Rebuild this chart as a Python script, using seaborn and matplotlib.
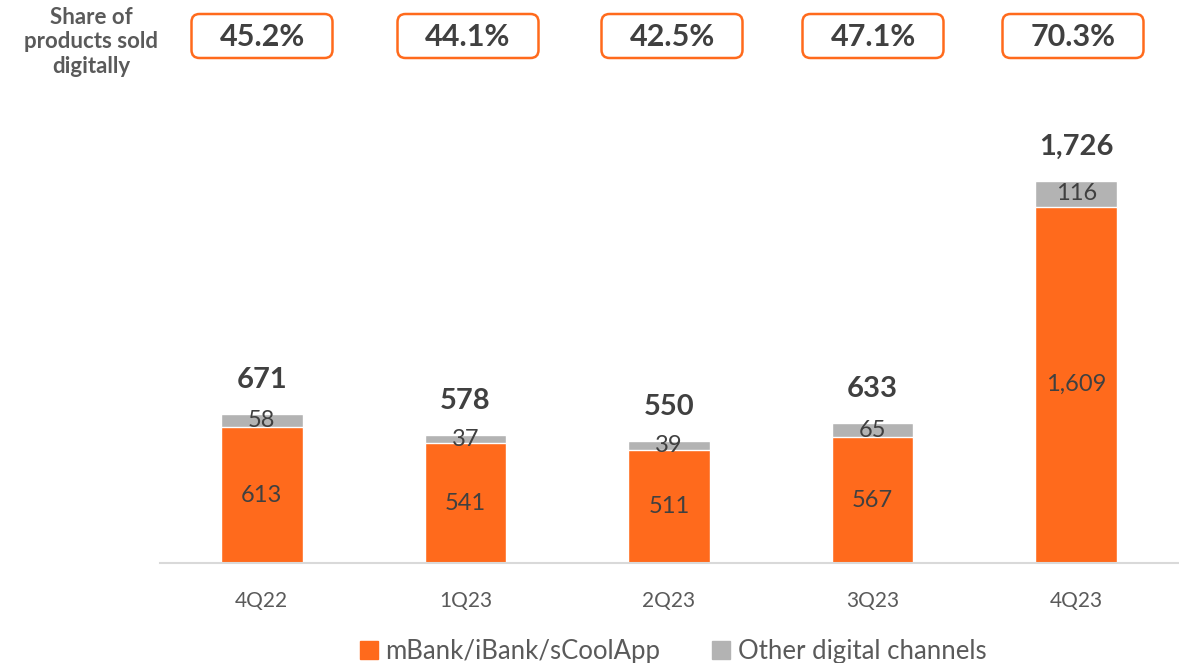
import numpy as np
import pandas as pd
import matplotlib.pyplot as plt
import seaborn as sns
from matplotlib.patches import Patch, FancyBboxPatch
from matplotlib.transforms import IdentityTransform

# data
quarters = ['4Q22', '1Q23', '2Q23', '3Q23', '4Q23']
mbank = [613, 541, 511, 567, 1609]
other = [58, 37, 39, 65, 116]
totals = [671, 578, 550, 633, 1726]
share = ['45.2%', '44.1%', '42.5%', '47.1%', '70.3%']

orange = '#FF6A1C'
grey = '#B3B3B3'
dark = '#404040'
mid = '#5A5A5A'

df = pd.DataFrame({'quarter': quarters, 'mbank': mbank, 'other': other})
df['stack'] = df['mbank'] + df['other']

sns.set_style('white')
plt.rcParams['font.family'] = ['Lato', 'DejaVu Sans']

W, H = 1179, 663
fig = plt.figure(figsize=(W / 100, H / 100), dpi=100)
ax = fig.add_axes([160 / W, 100 / H, 1018 / W, 443 / H])

# stacked bars: grey total behind, orange on top
sns.barplot(data=df, x='quarter', y='stack', color=grey, width=0.4,
            saturation=1, ax=ax)
sns.barplot(data=df, x='quarter', y='mbank', color=orange, width=0.4,
            saturation=1, ax=ax)

ax.set_xlim(-0.5, 4.5)
ax.set_ylim(0, 2000)
ax.set_xlabel('')
ax.set_ylabel('')
ax.set_yticks([])
ax.tick_params(axis='x', length=0, labelsize=15, labelcolor=mid, pad=20)
for s in ['left', 'right', 'top']:
    ax.spines[s].set_visible(False)
ax.spines['bottom'].set_color('#D9D9D9')
ax.spines['bottom'].set_linewidth(1.5)

for i in range(len(quarters)):
    ax.text(i, mbank[i] / 2, f'{mbank[i]:,}', ha='center', va='center',
            fontsize=17, color=dark)
    ax.text(i, mbank[i] + other[i] / 2, f'{other[i]:,}', ha='center',
            va='center', fontsize=17, color=dark)
    ax.text(i, mbank[i] + other[i] + 155, f'{totals[i]:,}', ha='center',
            va='center', fontsize=21, fontweight='bold', color=dark)

# share boxes at the top (pixel positions)
box_x = [262, 468, 672, 873, 1073]
bw, bh = 141, 44
for xp, s in zip(box_x, share):
    box = FancyBboxPatch((xp - bw / 2, H - 58), bw, bh,
                         boxstyle='round,pad=0,rounding_size=8',
                         fc='white', ec=orange, lw=1.8,
                         transform=IdentityTransform())
    fig.patches.append(box)
    fig.text(xp / W, 1 - 37 / H, s, ha='center', va='center',
             fontsize=22, fontweight='bold', color=dark)

fig.text(91 / W, 1 - 42 / H, 'Share of\nproducts sold\ndigitally',
         ha='center', va='center', fontsize=16, fontweight='bold',
         color=mid, linespacing=1.2)

handles = [Patch(color=orange, label='mBank/iBank/sCoolApp'),
           Patch(color=grey, label='Other digital channels')]
fig.legend(handles=handles, loc='center', bbox_to_anchor=(673 / W, 1 - 651 / H),
           ncol=2, frameon=False, fontsize=18.5, labelcolor=mid,
           handlelength=0.7, handleheight=0.7, handletextpad=0.3,
           columnspacing=2.0)

fig.savefig('out.png', dpi=100)
